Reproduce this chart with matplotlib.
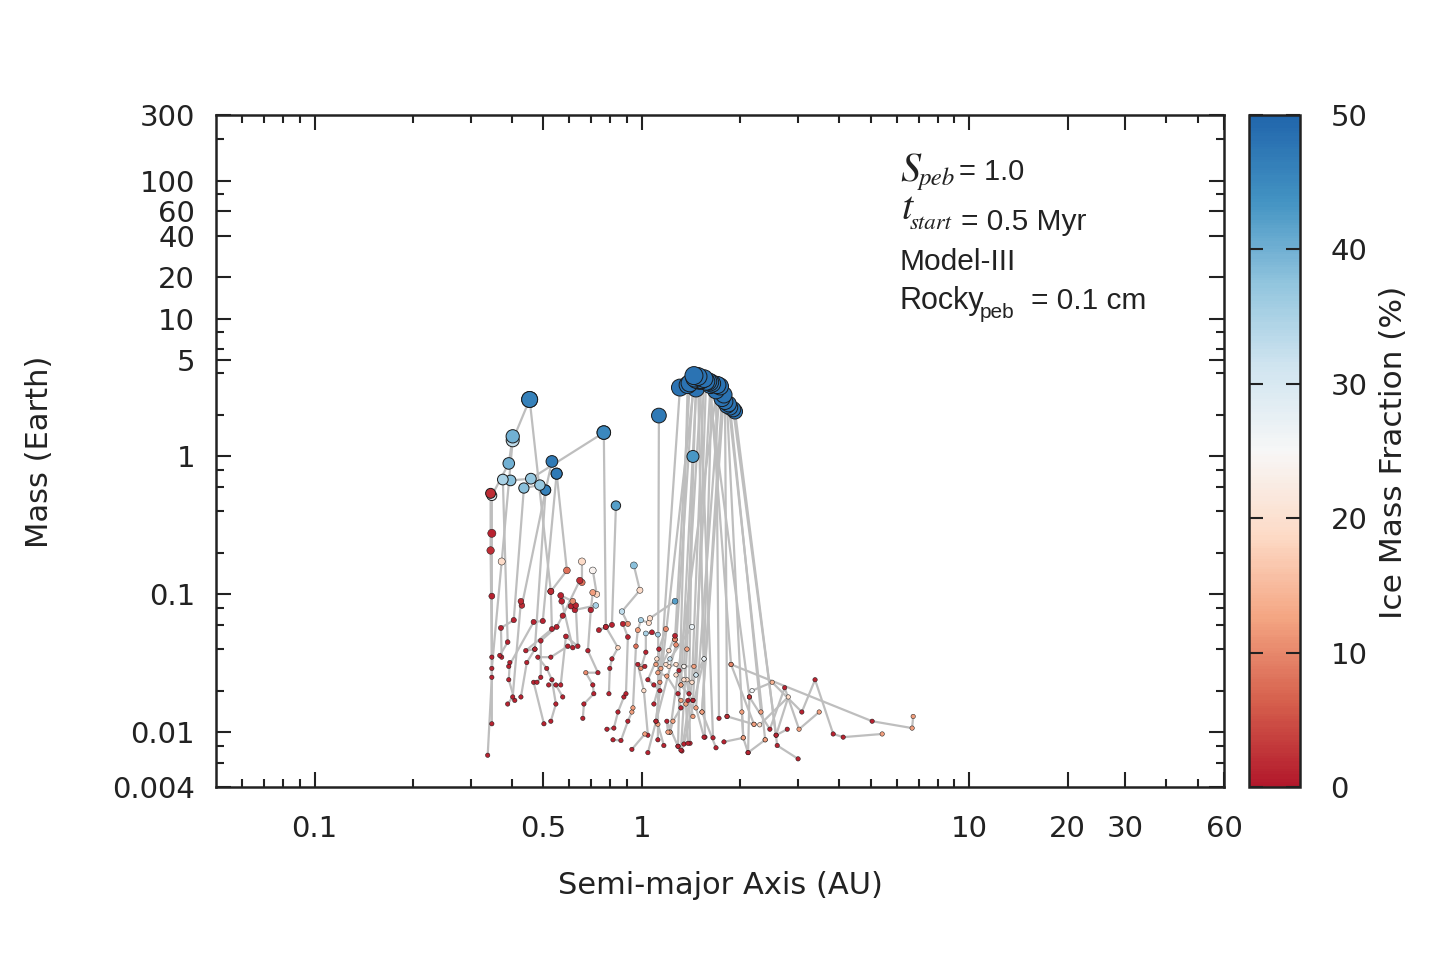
"""
Planet formation snapshot: semi-major axis vs mass, coloured by ice fraction
"""
import numpy as np
import matplotlib
matplotlib.use('Agg')
import matplotlib.pyplot as plt
from matplotlib.colors import LinearSegmentedColormap
from matplotlib.ticker import FixedLocator, FixedFormatter, NullFormatter

plt.rcParams['font.family'] = ['DejaVu Sans']
plt.rcParams['text.color'] = '#222222'
plt.rcParams['xtick.color'] = '#222222'
plt.rcParams['ytick.color'] = '#222222'

# each track: list of (semi-major axis [AU], mass [Earth], ice mass fraction [%])
big_tracks = [
    [(1.088, 0.016, 1), (1.135, 0.023, 10), (1.307, 3.16, 48)],
    [(1.043, 0.0071, 1), (1.271, 0.043, 10), (1.442, 3.86, 48)],
    [(1.316, 0.0074, 1), (1.373, 0.040, 12), (1.463, 3.11, 48)],
    [(1.325, 0.0073, 1), (1.422, 0.023, 19), (1.548, 3.67, 48)],
    [(1.344, 0.0082, 1), (1.548, 0.034, 27), (1.637, 3.38, 48)],
    [(1.548, 0.0092, 1), (1.463, 0.015, 12), (1.732, 3.22, 48)],
    [(1.684, 0.0077, 1), (1.526, 0.014, 12), (1.757, 2.63, 48)],
    [(1.781, 0.0085, 1), (2.04, 0.0091, 12), (1.820, 2.34, 48)],
    [(3.00, 0.0064, 1), (2.59, 0.0080, 1), (1.925, 2.12, 48)],
    [(1.119, 0.0088, 1), (1.127, 1.98, 47)],
    [(1.403, 0.0083, 1), (1.393, 0.019, 1), (1.432, 1.00, 43)],
    [(2.11, 0.0071, 1), (2.13, 0.018, 3), (1.592, 3.50, 48)],
    [(1.720, 0.0126, 1), (1.684, 3.01, 48)],
    [(1.820, 0.013, 2), (1.794, 2.50, 48)],
    [(2.31, 0.014, 12), (1.859, 2.27, 48)],
    [(1.649, 0.0091, 1), (1.504, 3.55, 48)],
    [(1.558, 0.0092, 1), (1.484, 3.80, 48)],
    [(2.20, 0.0114, 12), (1.872, 0.031, 10), (1.614, 3.45, 48)],
    [(1.289, 0.0079, 1), (1.380, 3.30, 48)],
    [(1.104, 0.012, 1), (1.450, 3.70, 48)],
    [(2.57, 0.0095, 3), (1.900, 2.20, 48)],
    [(1.218, 0.010, 12), (1.700, 3.30, 48)],
    [(1.262, 0.047, 10), (1.400, 3.40, 48)],
    [(1.344, 0.030, 24), (1.520, 3.60, 48)],
    [(1.432, 0.017, 1), (1.620, 3.30, 48)],
    [(1.526, 0.014, 12), (1.780, 2.80, 48)],
    [(2.38, 0.0088, 12), (1.840, 2.40, 48)],
    [(1.463, 0.026, 31), (1.570, 3.50, 48)],
    [(1.316, 0.022, 12), (1.470, 3.60, 48)],
]

inner_tracks = [
    [(0.338, 0.0068, 1), (0.348, 0.025, 1), (0.348, 0.097, 1), (0.348, 0.277, 1),
     (0.348, 0.52, 29), (0.392, 0.89, 40), (0.403, 1.40, 40)],
    [(0.348, 0.0115, 1), (0.348, 0.035, 1), (0.345, 0.208, 2), (0.345, 0.54, 2)],
    [(0.348, 0.029, 1), (0.373, 0.173, 19), (0.403, 1.31, 33), (0.454, 2.59, 46)],
    [(0.368, 0.036, 1), (0.389, 0.045, 1), (0.376, 0.68, 35), (0.397, 0.67, 38),
     (0.458, 0.69, 37), (0.765, 1.49, 45)],
    [(0.373, 0.035, 1), (0.371, 0.057, 1), (0.406, 0.065, 1), (0.436, 0.59, 38), (0.488, 0.62, 37)],
    [(0.389, 0.016, 1), (0.403, 0.018, 1), (0.427, 0.089, 2), (0.430, 0.083, 2), (0.508, 0.57, 46)],
    [(0.409, 0.017, 1), (0.392, 0.024, 1), (0.395, 0.032, 1), (0.392, 0.030, 1),
     (0.467, 0.063, 1), (0.498, 0.064, 1), (0.549, 0.75, 47)],
    [(0.427, 0.018, 1), (0.445, 0.032, 1), (0.471, 0.040, 1), (0.442, 0.039, 1),
     (0.531, 0.056, 1), (0.527, 0.105, 2), (0.590, 0.149, 8), (0.549, 0.75, 47)],
    [(0.502, 0.0115, 1), (0.467, 0.023, 1), (0.478, 0.023, 1), (0.491, 0.025, 1),
     (0.491, 0.046, 1), (0.549, 0.058, 1), (0.573, 0.070, 1), (0.646, 0.126, 2),
     (0.656, 0.122, 8), (0.656, 0.173, 19)],
    [(0.527, 0.012, 1), (0.546, 0.016, 1), (0.531, 0.024, 1), (0.512, 0.029, 1),
     (0.481, 0.035, 1), (0.527, 0.035, 1), (0.594, 0.042, 1), (0.615, 0.041, 1),
     (0.569, 0.089, 1), (0.565, 0.098, 1), (0.615, 0.089, 10)],
    [(0.573, 0.018, 1), (0.546, 0.022, 1), (0.519, 0.022, 1), (0.565, 0.022, 1),
     (0.586, 0.0495, 1), (0.637, 0.042, 1), (0.628, 0.083, 1), (0.607, 0.082, 1),
     (0.624, 0.077, 1), (0.723, 0.083, 35)],
    [(0.660, 0.0126, 1), (0.665, 0.016, 1), (0.713, 0.019, 1), (0.708, 0.022, 1),
     (0.674, 0.027, 10), (0.734, 0.027, 1), (0.684, 0.039, 1), (0.698, 0.077, 1),
     (0.708, 0.103, 12), (0.728, 0.100, 18), (0.708, 0.149, 24)],
    [(0.793, 0.019, 1), (0.798, 0.029, 1), (0.810, 0.034, 1), (0.845, 0.041, 18),
     (0.776, 0.058, 1), (0.739, 0.055, 1), (0.810, 0.060, 1), (0.833, 0.44, 42)],
    [(0.782, 0.0105, 1), (0.821, 0.0107, 1), (0.845, 0.014, 1), (0.881, 0.018, 1),
     (0.894, 0.019, 1), (0.906, 0.049, 1), (0.875, 0.061, 1), (0.906, 0.061, 10),
     (0.869, 0.075, 33), (0.986, 0.107, 19), (0.945, 0.162, 38)],
    [(0.816, 0.0088, 1), (0.863, 0.0087, 1), (0.906, 0.012, 1), (0.932, 0.014, 12),
     (0.939, 0.015, 12), (0.959, 0.042, 8), (0.972, 0.055, 12), (0.993, 0.065, 35),
     (1.050, 0.062, 19), (1.058, 0.067, 19), (1.262, 0.089, 42)],
    [(0.932, 0.0075, 1), (1.021, 0.0097, 12), (1.043, 0.0095, 1), (1.014, 0.020, 19),
     (0.972, 0.031, 1), (1.021, 0.030, 1), (0.993, 0.029, 10), (1.028, 0.038, 1),
     (1.028, 0.052, 35), (1.073, 0.053, 1), (1.119, 0.051, 36)],
    [(1.167, 0.0080, 1), (1.119, 0.0114, 12), (1.104, 0.012, 1), (1.135, 0.020, 1),
     (1.088, 0.022, 1), (1.043, 0.024, 1), (1.111, 0.034, 19), (1.104, 0.031, 12),
     (1.143, 0.029, 12), (1.127, 0.040, 1), (1.184, 0.056, 10)],
    [(1.289, 0.0079, 1), (1.192, 0.012, 1), (1.201, 0.010, 12), (1.218, 0.010, 12),
     (1.244, 0.012, 12), (1.316, 0.015, 1), (1.289, 0.019, 1), (1.192, 0.0255, 12),
     (1.119, 0.027, 12), (1.209, 0.039, 19), (1.262, 0.050, 1), (1.262, 0.047, 10)],
    [(1.383, 0.0083, 1), (1.363, 0.016, 12), (1.316, 0.017, 12), (1.383, 0.017, 1),
     (1.432, 0.017, 1), (1.316, 0.022, 12), (1.344, 0.024, 19), (1.373, 0.024, 19),
     (1.271, 0.026, 19), (1.298, 0.028, 1), (1.271, 0.031, 19), (1.209, 0.030, 19),
     (1.184, 0.031, 19), (1.218, 0.034, 33), (1.422, 0.058, 27)],
    [(1.432, 0.013, 12), (1.344, 0.030, 24), (1.442, 0.030, 12), (1.463, 0.026, 31), (1.548, 0.034, 27)],
    [(0.471, 0.040, 1), (0.508, 0.57, 46), (0.531, 0.92, 47)],
    [(0.527, 0.105, 2), (0.454, 2.59, 46)],
    [(0.776, 0.058, 1), (0.765, 1.49, 45)],
]

outer_tracks = [
    [(1.872, 0.031, 10), (5.05, 0.012, 1), (6.69, 0.0107, 12), (6.74, 0.013, 12)],
    [(2.17, 0.020, 26), (2.50, 0.023, 14), (3.08, 0.014, 1), (3.38, 0.024, 1),
     (3.84, 0.0097, 1), (4.12, 0.0092, 1), (5.42, 0.0097, 12)],
    [(2.13, 0.018, 1), (2.46, 0.0105, 1), (2.73, 0.021, 1), (3.02, 0.0105, 12), (3.48, 0.014, 12)],
    [(2.02, 0.014, 12), (2.04, 0.0091, 12), (2.11, 0.0071, 1), (2.38, 0.0088, 12)],
    [(2.29, 0.0113, 19), (2.80, 0.018, 19), (2.57, 0.0095, 1), (2.78, 0.0105, 1)],
    [(1.820, 0.013, 2), (2.20, 0.0114, 12)],
]

x_major = [0.1, 0.5, 1, 10, 20, 30, 60]
x_major_labels = ['0.1', '0.5', '1', '10', '20', '30', '60']
x_minor = [0.06, 0.07, 0.08, 0.09, 0.2, 0.3, 0.4, 0.6, 0.7, 0.8, 0.9,
           2, 3, 4, 5, 6, 7, 8, 9, 40, 50]
y_major = [0.004, 0.01, 0.1, 1, 5, 10, 20, 40, 60, 100, 300]
y_major_labels = ['0.004', '0.01', '0.1', '1', '5', '10', '20', '40', '60', '100', '300']
y_minor = [0.006, 0.008, 0.02, 0.04, 0.06, 0.08, 0.2, 0.4, 0.6, 0.8,
           2, 4, 6, 8, 80, 200]
cbar_ticks = [0, 10, 20, 30, 40, 50]

W, H = 1440, 960
fig = plt.figure(figsize=(14.4, 9.6), dpi=100)
ax = fig.add_axes([216 / W, 1 - 787 / H, (1224 - 216) / W, (787 - 115) / H])
cax = fig.add_axes([1249 / W, 1 - 787 / H, (1300 - 1249) / W, (787 - 115) / H])

cmap = LinearSegmentedColormap.from_list('rdbu_cut', plt.cm.RdBu(np.linspace(0.1, 0.9, 256)))

all_tracks = big_tracks + inner_tracks + outer_tracks
for tr in all_tracks:
    a, m, f = zip(*tr)
    ax.plot(a, m, color='#bebebe', lw=1.6, zorder=1, solid_joinstyle='round')

pts = np.array([p for tr in all_tracks for p in tr])
pts = pts[np.argsort(pts[:, 1])]
diam_px = np.maximum(12.0 * pts[:, 1] ** 0.3, 4.4)
sizes = (diam_px / 1.389) ** 2
edge_w = np.where(pts[:, 1] > 0.3, 0.7, 0.35)
sc = ax.scatter(pts[:, 0], pts[:, 1], c=pts[:, 2], s=sizes, cmap=cmap, vmin=0, vmax=50,
                edgecolors='#1a1a1a', linewidths=edge_w, zorder=2)

ax.set_xscale('log')
ax.set_yscale('log')
ax.set_xlim(0.05, 60)
ax.set_ylim(0.004, 300)
ax.xaxis.set_major_locator(FixedLocator(x_major))
ax.xaxis.set_major_formatter(FixedFormatter(x_major_labels))
ax.xaxis.set_minor_locator(FixedLocator(x_minor))
ax.xaxis.set_minor_formatter(NullFormatter())
ax.yaxis.set_major_locator(FixedLocator(y_major))
ax.yaxis.set_major_formatter(FixedFormatter(y_major_labels))
ax.yaxis.set_minor_locator(FixedLocator(y_minor))
ax.yaxis.set_minor_formatter(NullFormatter())

ax.tick_params(which='both', direction='in', top=True, right=True, width=1.5)
ax.tick_params(which='major', length=11, labelsize=21)
ax.tick_params(which='minor', length=6)
ax.tick_params(axis='x', which='major', pad=20)
ax.tick_params(axis='y', which='major', pad=15)
for sp in ax.spines.values():
    sp.set_linewidth(1.8)
    sp.set_color('#222222')

cb = fig.colorbar(sc, cax=cax)
cb.set_ticks(cbar_ticks)
cb.outline.set_linewidth(1.8)
cb.outline.set_edgecolor('#222222')
cax.tick_params(direction='in', left=True, right=True, length=10, width=1.5,
                labelsize=21, pad=22)

fig.text(40 / W, 1 - 452 / H, 'Mass (Earth)', rotation=90, ha='center', va='center', fontsize=22)
fig.text(720 / W, 1 - 885 / H, 'Semi-major Axis (AU)', ha='center', va='center', fontsize=22)
fig.text(1393 / W, 1 - 452 / H, 'Ice Mass Fraction (%)', rotation=90, ha='center', va='center', fontsize=22.5)

# parameter block
serif_it = dict(family='STIXGeneral', style='italic')
sans = dict(family='Liberation Sans')
fig.text(900 / W, 1 - 182 / H, 'S', fontsize=29, ha='left', va='baseline', **serif_it)
fig.text(919 / W, 1 - 185 / H, 'peb', fontsize=18, ha='left', va='baseline', **serif_it)
fig.text(959 / W, 1 - 180 / H, '= 1.0', fontsize=21, ha='left', va='baseline', **sans)
fig.text(901 / W, 1 - 219 / H, 't', fontsize=29, ha='left', va='baseline', **serif_it)
fig.text(910 / W, 1 - 229 / H, 'start', fontsize=16.5, ha='left', va='baseline', **serif_it)
fig.text(961 / W, 1 - 230 / H, '= 0.5 Myr', fontsize=21.5, ha='left', va='baseline', **sans)
fig.text(900 / W, 1 - 270 / H, 'Model-III', fontsize=21.5, ha='left', va='baseline', **sans)
fig.text(900 / W, 1 - 309 / H, 'Rocky', fontsize=22, ha='left', va='baseline', **sans)
fig.text(980 / W, 1 - 318 / H, 'peb', fontsize=15, ha='left', va='baseline', **sans)
fig.text(1031 / W, 1 - 309 / H, '= 0.1 cm', fontsize=21.5, ha='left', va='baseline', **sans)

fig.savefig('out.png', dpi=100, facecolor='white')
